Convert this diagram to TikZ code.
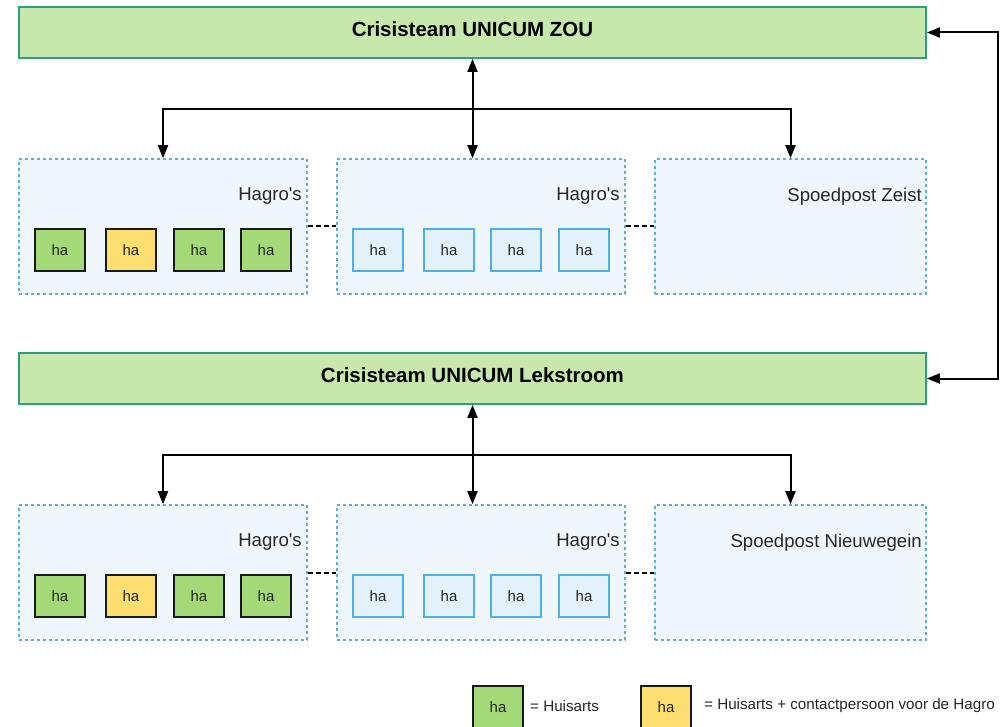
\documentclass[tikz,border=0pt]{standalone}
\usepackage{fontspec}
\setmainfont{Liberation Sans}
\usetikzlibrary{arrows.meta,calc}
\definecolor{titlefill}{HTML}{C7E8AC}
\definecolor{titledraw}{HTML}{2E9E7C}
\definecolor{grpfill}{HTML}{EFF7FD}
\definecolor{grpdraw}{HTML}{5AAFDF}
\definecolor{hagreen}{HTML}{A4D977}
\definecolor{hayellow}{HTML}{FFDE71}
\definecolor{hablue}{HTML}{E3F1FB}
\definecolor{hablueb}{HTML}{4DB0E8}
\newcommand{\hagro}{Hagro\textquotesingle s}
\begin{document}
\begin{tikzpicture}[x=1pt,y=-1pt,
  titlebox/.style={draw=titledraw,fill=titlefill,line width=1.8pt,inner sep=0pt,minimum width=907pt,minimum height=51pt},
  titletext/.style={font=\fontsize{20.5}{24}\selectfont\bfseries,inner sep=0pt},
  grp/.style={draw=grpdraw,fill=grpfill,line width=1.6pt,dash pattern=on 3pt off 3pt,inner sep=0pt,minimum height=135pt},
  grplabel/.style={font=\fontsize{18.6}{22}\selectfont,inner sep=0pt,anchor=east,text=black!85},
  hab/.style={line width=1.8pt,inner sep=0pt,minimum width=50pt,minimum height=42pt,font=\fontsize{15}{18}\selectfont,text=black!85},
  hag/.style={hab,draw=black!90,fill=hagreen},
  hay/.style={hab,draw=black!90,fill=hayellow},
  hal/.style={hab,draw=hablueb,fill=hablue},
  legtext/.style={font=\fontsize{15.2}{18}\selectfont,inner sep=0pt,anchor=west,text=black!85},
  conn/.style={line width=2pt,{Triangle[length=13pt,width=10pt]}-{Triangle[length=13pt,width=10pt]}},
  arr/.style={line width=2pt,-{Triangle[length=13pt,width=10pt]}},
  link/.style={line width=2pt,dash pattern=on 5pt off 3pt}]
\useasboundingbox (0,0) rectangle (1007,727);
% level 1
\node[titlebox] (zou) at (472.5,32.5) {};
\node[titletext] (zoul) at (472.5,29) {Crisisteam UNICUM ZOU};
\node[grp,minimum width=288pt] (g11) at (163,226.5) {};
\node[grp,minimum width=288pt] (g12) at (481,226.5) {};
\node[grp,minimum width=271pt] (g13) at (790.5,226.5) {};
\node[grplabel] (g11l) at (302,196.5) {\hagro};
\node[grplabel] (g12l) at (620,196.5) {\hagro};
\node[grplabel] (g13l) at (922,196.5) {Spoedpost Zeist};
\node[hag] (a1) at (60,250) {ha};
\node[hay] (a2) at (131,250) {ha};
\node[hag] (a3) at (199,250) {ha};
\node[hag] (a4) at (266,250) {ha};
\node[hal] (b1) at (378,250) {ha};
\node[hal] (b2) at (449,250) {ha};
\node[hal] (b3) at (516,250) {ha};
\node[hal] (b4) at (584,250) {ha};
\coordinate (j1) at (472.5,109);
\draw[conn] (zou.south) -- (zou.south |- g12.north);
\draw[arr] (j1) -| (g11.north);
\draw[arr] (j1) -| (g13.north);
\draw[link] (g11.east) -- (g12.west);
\draw[link] (g12.east) -- (g13.west);
% level 2
\node[titlebox] (lek) at (472.5,378.5) {};
\node[titletext] (lekl) at (472.5,375) {Crisisteam UNICUM Lekstroom};
\node[grp,minimum width=288pt] (g21) at (163,572.5) {};
\node[grp,minimum width=288pt] (g22) at (481,572.5) {};
\node[grp,minimum width=271pt] (g23) at (790.5,572.5) {};
\node[grplabel] (g21l) at (302,542.5) {\hagro};
\node[grplabel] (g22l) at (620,542.5) {\hagro};
\node[grplabel] (g23l) at (922,542.5) {Spoedpost Nieuwegein};
\node[hag] (c1) at (60,596) {ha};
\node[hay] (c2) at (131,596) {ha};
\node[hag] (c3) at (199,596) {ha};
\node[hag] (c4) at (266,596) {ha};
\node[hal] (d1) at (378,596) {ha};
\node[hal] (d2) at (449,596) {ha};
\node[hal] (d3) at (516,596) {ha};
\node[hal] (d4) at (584,596) {ha};
\coordinate (j2) at (472.5,455);
\draw[conn] (lek.south) -- (lek.south |- g22.north);
\draw[arr] (j2) -| (g21.north);
\draw[arr] (j2) -| (g23.north);
\draw[link] (g21.east) -- (g22.west);
\draw[link] (g22.east) -- (g23.west);
% link between crisis teams
\coordinate (r) at (998,32.5);
\draw[conn] (zou.east) -- (r) |- (lek.east);
% legend
\node[hag] (lg) at (498,707) {ha};
\node[legtext] (lgt) at (530,706) {= Huisarts};
\node[hay] (ly) at (666,707) {ha};
\node[legtext] (lyt) at (704,706) {= Huisarts + contactpersoon voor de Hagro};
\end{tikzpicture}
\end{document}
